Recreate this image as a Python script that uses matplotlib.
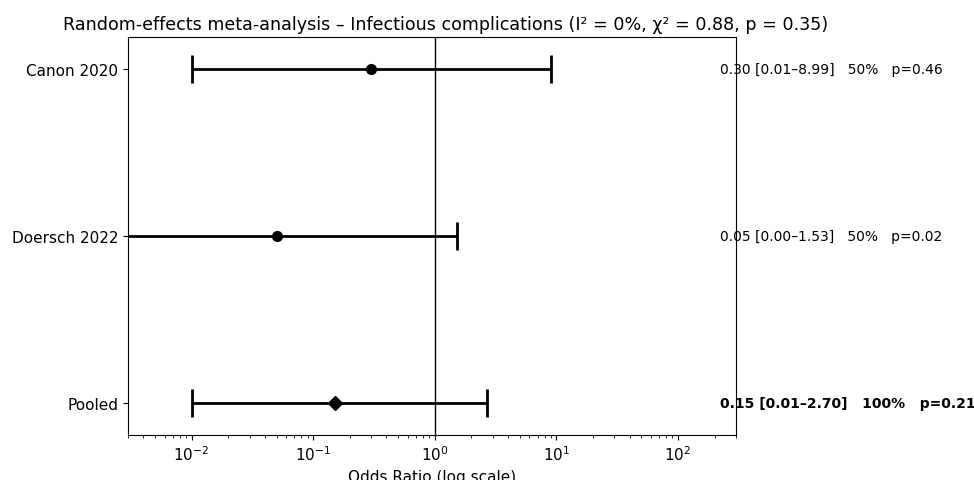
import numpy as np
import matplotlib.pyplot as plt

# study estimates (odds ratios with 95% CI)
studies = ['Canon 2020', 'Doersch 2022', 'Pooled']
or_vals = [0.30, 0.05, 0.15]
ci_low = [0.01, 0.001, 0.01]
ci_high = [8.99, 1.53, 2.70]
labels = ['0.30 [0.01–8.99]   50%   p=0.46',
          '0.05 [0.00–1.53]   50%   p=0.02',
          '0.15 [0.01–2.70]   100%   p=0.21']
markers = ['o', 'o', 'D']

fig = plt.figure(figsize=(9.74, 4.81), dpi=100)
ax = fig.add_axes([128/974, 1 - 436/481, 608/974, 398/481])

ypos = [2, 1, 0]
for y, v, lo, hi, m, lab in zip(ypos, or_vals, ci_low, ci_high, markers, labels):
    ax.errorbar(v, y, xerr=[[v - lo], [hi - v]], fmt=m, color='black',
                markersize=7, capsize=10, elinewidth=2, capthick=2)
    bold = 'bold' if m == 'D' else 'normal'
    ax.text(0.974, y, lab, transform=ax.get_yaxis_transform(), va='center',
            ha='left', fontsize=10, fontweight=bold, clip_on=False)

ax.axvline(1, color='black', linewidth=1)
ax.set_xscale('log')
ax.set_xlim(0.003, 300)
ax.set_ylim(-0.19, 2.19)
ax.set_yticks(ypos)
ax.set_yticklabels(studies)
ax.tick_params(labelsize=11)
ax.set_xlabel('Odds Ratio (log scale)', fontsize=11)
ax.set_title('Random-effects meta-analysis – Infectious complications (I² = 0%, χ² = 0.88, p = 0.35)',
             fontsize=12.6, x=0.523, pad=6)

fig.savefig('out.png', dpi=100)
